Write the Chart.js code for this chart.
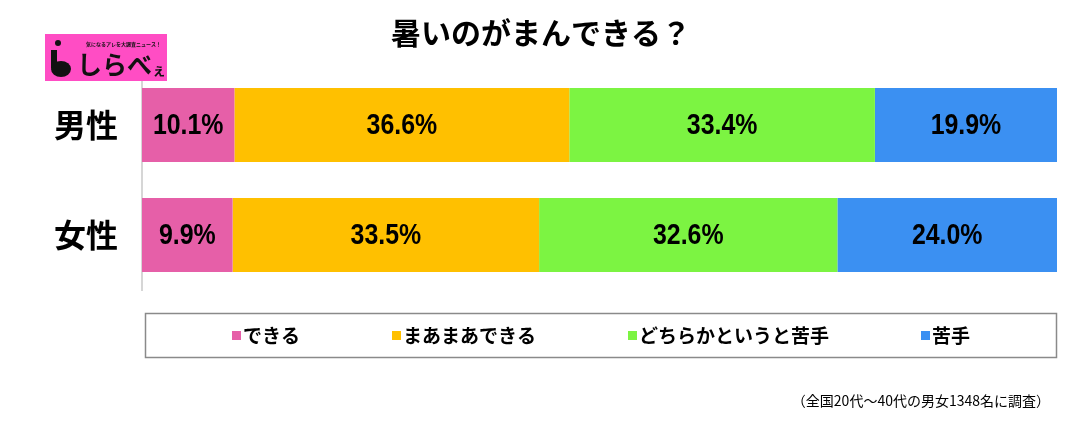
<!DOCTYPE html>
<html>
<head>
<meta charset="utf-8">
<script src="https://cdn.jsdelivr.net/npm/chart.js@4"></script>
<style>
  html, body { margin: 0; padding: 0; background: #fff; }
  #wrap { width: 1090px; height: 421px; }
</style>
</head>
<body>
<div id="wrap"><canvas id="barChart" width="1090" height="421"></canvas></div>
<script>
const title = '暑いのがまんできる？';
const note = '（全国20代～40代の男女1348名に調査）';
const groups = ['男性', '女性'];
const answers = ['できる', 'まあまあできる', 'どちらかというと苦手', '苦手'];
const answerColors = ['#E65FA8', '#FFC000', '#7CF442', '#3B90F2'];
const dekiru = [10.1, 9.9];
const maamaa = [36.6, 33.5];
const nigateKamo = [33.4, 32.6];
const nigate = [19.9, 24.0];

const JP = '"Noto Sans CJK JP", "Noto Sans", sans-serif';

const decor = {
    id: 'decor',
    afterDatasetsDraw(chart) {
        const ctx = chart.ctx;
        ctx.fillStyle = '#000';
        ctx.textAlign = 'center';
        ctx.textBaseline = 'middle';
        ctx.font = 'bold 30px "Liberation Sans", sans-serif';
        chart.data.datasets.forEach((ds, i) => {
            chart.getDatasetMeta(i).data.forEach((bar, j) => {
                const cx = (bar.x + bar.base) / 2;
                ctx.save();
                ctx.translate(cx, bar.y + 1);
                ctx.scale(0.83, 1);
                ctx.fillText(ds.data[j].toFixed(1) + '%', 0, 0);
                ctx.restore();
            });
        });
    },
    afterDraw(chart) {
        const ctx = chart.ctx;
        ctx.save();

        // title
        ctx.fillStyle = '#000';
        ctx.textAlign = 'center';
        ctx.textBaseline = 'middle';
        ctx.font = 'bold 30px ' + JP;
        ctx.fillText(title, 541, 33);

        // logo
        ctx.fillStyle = '#FF4DC4';
        ctx.fillRect(45, 34, 122, 47);
        ctx.fillStyle = '#111';
        ctx.beginPath();
        ctx.arc(58, 43, 3, 0, Math.PI * 2);
        ctx.fill();
        ctx.beginPath();
        ctx.ellipse(61, 69, 10, 8, 0, 0, Math.PI * 2);
        ctx.fill();
        ctx.fillRect(51, 50, 6, 18);
        ctx.font = 'bold 5px ' + JP;
        ctx.textAlign = 'left';
        ctx.fillText('気になるアレを大調査ニュース！', 86, 44);
        ctx.font = 'bold 25px ' + JP;
        ctx.textBaseline = 'alphabetic';
        ctx.fillText('しらべ', 77, 74);
        ctx.font = 'bold 14px ' + JP;
        ctx.fillText('ぇ', 152, 75);

        // legend box
        ctx.strokeStyle = '#8a8a8a';
        ctx.lineWidth = 1.5;
        ctx.strokeRect(145.5, 313.5, 911, 44);
        ctx.font = 'bold 19px ' + JP;
        ctx.textBaseline = 'middle';
        const gap = 92;
        const widths = chart.data.datasets.map(ds => 11 + ctx.measureText(ds.label).width);
        const total = widths.reduce((a, b) => a + b, 0) + gap * (widths.length - 1);
        let x = 601 - total / 2;
        chart.data.datasets.forEach((ds, i) => {
            ctx.fillStyle = ds.backgroundColor;
            ctx.fillRect(x, 331, 9, 9);
            ctx.fillStyle = '#000';
            ctx.fillText(ds.label, x + 11, 336);
            x += widths[i] + gap;
        });

        // note
        ctx.font = '14px ' + JP;
        ctx.textAlign = 'right';
        ctx.fillText(note, 1050, 401);
        ctx.restore();
    }
};

const series = [dekiru, maamaa, nigateKamo, nigate];
const ctx = document.getElementById('barChart').getContext('2d');
new Chart(ctx, {
    type: 'bar',
    data: {
        labels: groups,
        datasets: answers.map((a, i) => ({
            label: a,
            data: series[i],
            backgroundColor: answerColors[i],
            borderWidth: 0,
            categoryPercentage: 1,
            barPercentage: 0.673
        }))
    },
    options: {
        indexAxis: 'y',
        responsive: false,
        animation: false,
        layout: { padding: { top: 70, bottom: 131, right: 33, left: 0 } },
        plugins: { legend: { display: false }, tooltip: { enabled: false } },
        scales: {
            x: { stacked: true, min: 0, max: 100, display: false },
            y: {
                stacked: true,
                afterFit(scale) { scale.width = 142; },
                grid: { display: false, drawTicks: false },
                border: { display: true, color: '#d6d6d6', width: 2 },
                ticks: {
                    padding: 24,
                    color: '#000',
                    font: { family: JP, size: 32, weight: 'bold' }
                }
            }
        }
    },
    plugins: [decor]
});
</script>
</body>
</html>
